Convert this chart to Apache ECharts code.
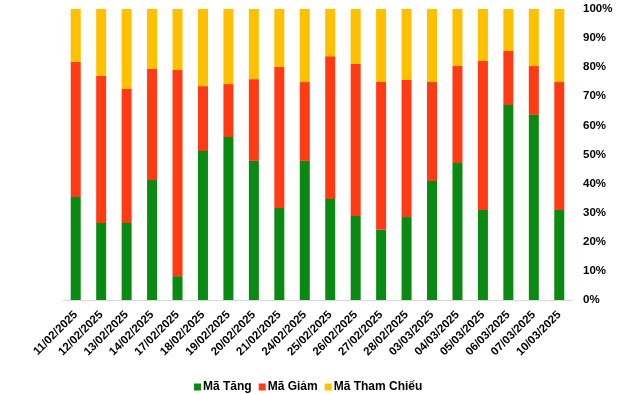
<!DOCTYPE html>
<html>
<head>
<meta charset="utf-8">
<script src="https://cdn.jsdelivr.net/npm/echarts@6/dist/echarts.min.js"></script>
<style>
html,body{margin:0;padding:0;background:#fff;}
#c{width:640px;height:394px;}
</style>
</head>
<body>
<div id="c"></div>
<script>
const categories = ["11/02/2025","12/02/2025","13/02/2025","14/02/2025","17/02/2025","18/02/2025","19/02/2025","20/02/2025","21/02/2025","24/02/2025","25/02/2025","26/02/2025","27/02/2025","28/02/2025","03/03/2025","04/03/2025","05/03/2025","06/03/2025","07/03/2025","10/03/2025"];
// share of codes (%)
const maTang = [35.4,26.5,26.5,41.2,8.2,51.2,56.0,47.8,31.6,47.8,34.7,28.9,24.1,28.5,40.9,47.1,30.9,67.0,63.6,30.9];
const maGiam = [46.4,50.5,46.0,38.2,70.8,22.3,18.2,28.1,48.5,27.1,49.1,52.2,50.8,47.1,34.0,33.3,51.2,18.6,16.8,44.0];
const maThamChieu = [18.2,23.0,27.5,20.6,21.0,26.5,25.8,24.1,19.9,25.1,16.2,18.9,25.1,24.4,25.1,19.6,17.9,14.4,19.6,25.1];
const yTicks = ["0%","10%","20%","30%","40%","50%","60%","70%","80%","90%","100%"];

const font = "Liberation Sans, Arial, sans-serif";
const chart = echarts.init(document.getElementById('c'));
const mk = (name, data, color) => ({
  name, type: 'bar', stack: 'total', data, barWidth: 10,
  itemStyle: { color }, emphasis: { disabled: true }
});
chart.setOption({
  animation: false,
  grid: { left: 63, right: 68, top: 9, bottom: 94 },
  legend: {
    top: 376, left: 189, icon: 'rect', itemWidth: 7, itemHeight: 7, itemGap: 7,
    textStyle: { fontFamily: font, fontSize: 12, fontWeight: 'bold', color: '#000', padding: [0,0,0,-3] },
    data: ['Mã Tăng','Mã Giảm','Mã Tham Chiếu']
  },
  xAxis: {
    type: 'category', data: categories,
    axisLine: { lineStyle: { color: '#d9d9d9', width: 1 } },
    axisTick: { show: false },
    axisLabel: { rotate: 45, interval: 0, margin: 13, fontFamily: font, fontSize: 11.5, fontWeight: 'bold', color: '#000' }
  },
  yAxis: {
    type: 'value', position: 'right', min: 0, max: 100, interval: 10,
    splitLine: { show: false }, axisLine: { show: false }, axisTick: { show: false },
    axisLabel: {
      margin: 11, align: 'left', fontFamily: font, fontSize: 11.5, fontWeight: 'bold', color: '#000',
      formatter: v => yTicks[Math.round(v / 10)]
    }
  },
  series: [
    mk('Mã Tăng', maTang, '#0B8A13'),
    mk('Mã Giảm', maGiam, '#FF3B14'),
    mk('Mã Tham Chiếu', maThamChieu, '#FFC000')
  ]
});
</script>
</body>
</html>
